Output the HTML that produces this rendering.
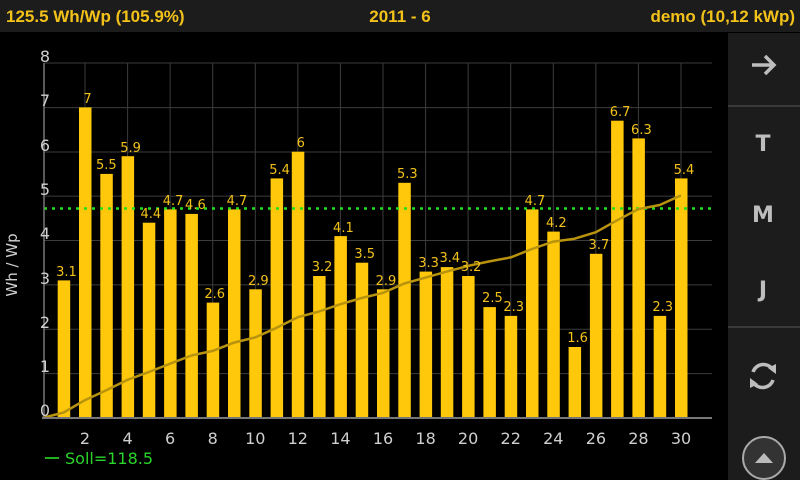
<!DOCTYPE html>
<html><head><meta charset="utf-8"><style>
html,body{margin:0;padding:0;background:#000;width:800px;height:480px;overflow:hidden;font-family:"Liberation Sans","DejaVu Sans",sans-serif}
</style></head><body>
<svg width="800" height="480" xmlns="http://www.w3.org/2000/svg" font-family="'DejaVu Sans','Liberation Sans',sans-serif">
<rect width="800" height="480" fill="#000"/>
<rect width="800" height="32" fill="#1c1c1c"/>
<g fill="#f2c21a" font-weight="bold" font-size="17" font-family="'Liberation Sans',sans-serif">
<text x="6" y="22">125.5 Wh/Wp (105.9%)</text>
<text x="400" y="22" text-anchor="middle">2011 - 6</text>
<text x="795" y="22" text-anchor="end">demo (10,12 kWp)</text>
</g>
<rect x="728" y="33" width="72" height="447" fill="#1c1c1c"/>
<rect x="728" y="105" width="72" height="2" fill="#3a3a3a"/>
<rect x="728" y="326" width="72" height="2" fill="#3a3a3a"/>
<g fill="#bdbdbd" font-weight="bold" font-size="22" text-anchor="middle">
<text x="763" y="151">T</text><text x="763" y="222">M</text><text x="763" y="297">J</text>
</g>
<path d="M752 65 H774 M765 56 L774 65 L765 74" stroke="#bdbdbd" stroke-width="3.5" fill="none"/>
<g stroke="#bdbdbd" stroke-width="3.5" fill="none">
<path d="M753 372 A11 11 0 0 1 773 370"/><path d="M773 380 A11 11 0 0 1 753 382"/>
</g>
<path d="M768 368 L776 364 L776 374 Z M758 384 L750 388 L750 378 Z" fill="#bdbdbd"/>
<circle cx="764" cy="458" r="21" fill="#333" stroke="#aaa" stroke-width="2"/>
<path d="M755 463 L764 453 L773 463 Z" fill="#bbb"/>
<g stroke="#3c3c3c" stroke-width="1">
<line x1="44" y1="63" x2="712" y2="63"/><line x1="44" y1="107.6" x2="712" y2="107.6"/><line x1="44" y1="152" x2="712" y2="152"/><line x1="44" y1="196.1" x2="712" y2="196.1"/><line x1="44" y1="240.5" x2="712" y2="240.5"/><line x1="44" y1="284.9" x2="712" y2="284.9"/><line x1="44" y1="329.3" x2="712" y2="329.3"/><line x1="44" y1="373.6" x2="712" y2="373.6"/>
<line x1="85" y1="63" x2="85" y2="418"/><line x1="127.6" y1="63" x2="127.6" y2="418"/><line x1="170.1" y1="63" x2="170.1" y2="418"/><line x1="212.7" y1="63" x2="212.7" y2="418"/><line x1="255.3" y1="63" x2="255.3" y2="418"/><line x1="297.8" y1="63" x2="297.8" y2="418"/><line x1="340.4" y1="63" x2="340.4" y2="418"/><line x1="383" y1="63" x2="383" y2="418"/><line x1="425.6" y1="63" x2="425.6" y2="418"/><line x1="468.1" y1="63" x2="468.1" y2="418"/><line x1="510.7" y1="63" x2="510.7" y2="418"/><line x1="553.3" y1="63" x2="553.3" y2="418"/><line x1="595.9" y1="63" x2="595.9" y2="418"/><line x1="638.4" y1="63" x2="638.4" y2="418"/><line x1="681" y1="63" x2="681" y2="418"/>
</g>
<g fill="#ffc80a">
<rect x="57.7" y="280.4" width="12.5" height="137.6"/><rect x="79" y="107.4" width="12.5" height="310.6"/><rect x="100.3" y="173.9" width="12.5" height="244.1"/><rect x="121.6" y="156.2" width="12.5" height="261.8"/><rect x="142.8" y="222.7" width="12.5" height="195.3"/><rect x="164.1" y="209.4" width="12.5" height="208.6"/><rect x="185.4" y="213.9" width="12.5" height="204.1"/><rect x="206.7" y="302.6" width="12.5" height="115.4"/><rect x="228" y="209.4" width="12.5" height="208.6"/><rect x="249.3" y="289.3" width="12.5" height="128.7"/><rect x="270.6" y="178.4" width="12.5" height="239.6"/><rect x="291.8" y="151.7" width="12.5" height="266.3"/><rect x="313.1" y="276" width="12.5" height="142"/><rect x="334.4" y="236.1" width="12.5" height="181.9"/><rect x="355.7" y="262.7" width="12.5" height="155.3"/><rect x="377" y="289.3" width="12.5" height="128.7"/><rect x="398.3" y="182.8" width="12.5" height="235.2"/><rect x="419.6" y="271.6" width="12.5" height="146.4"/><rect x="440.8" y="267.1" width="12.5" height="150.9"/><rect x="462.1" y="276" width="12.5" height="142"/><rect x="483.4" y="307.1" width="12.5" height="110.9"/><rect x="504.7" y="315.9" width="12.5" height="102.1"/><rect x="526" y="209.4" width="12.5" height="208.6"/><rect x="547.3" y="231.6" width="12.5" height="186.4"/><rect x="568.6" y="347" width="12.5" height="71"/><rect x="589.9" y="253.8" width="12.5" height="164.2"/><rect x="611.1" y="120.7" width="12.5" height="297.3"/><rect x="632.4" y="138.4" width="12.5" height="279.6"/><rect x="653.7" y="315.9" width="12.5" height="102.1"/><rect x="675" y="178.4" width="12.5" height="239.6"/>
</g>
<line x1="44" y1="208.5" x2="712" y2="208.5" stroke="#22e01e" stroke-width="2.5" stroke-dasharray="3,5"/>
<polyline fill="none" stroke="#b8930e" stroke-width="2.5" stroke-linejoin="round" points="42.4,418 63.7,412.5 85,400.1 106.3,390.3 127.6,379.8 148.8,372 170.1,363.7 191.4,355.5 212.7,350.9 234,342.6 255.3,337.4 276.6,327.8 297.8,317.2 319.1,311.5 340.4,304.2 361.7,298 383,292.9 404.3,283.5 425.6,277.6 446.8,271.6 468.1,265.9 489.4,261.4 510.7,257.4 532,249 553.3,241.6 574.6,238.7 595.9,232.2 617.1,220.3 638.4,209.1 659.7,205 681,195.4"/>
<g fill="#f2c21a" font-size="13" text-anchor="middle">
<text x="66.5" y="276">3.1</text><text x="87.5" y="103">7</text><text x="106.3" y="169">5.5</text><text x="130.6" y="152">5.9</text><text x="150.8" y="218">4.4</text><text x="173.1" y="205">4.7</text><text x="195.4" y="209">4.6</text><text x="214.7" y="298">2.6</text><text x="237" y="205">4.7</text><text x="258.3" y="285">2.9</text><text x="279.6" y="174">5.4</text><text x="300.8" y="147">6</text><text x="322.1" y="271">3.2</text><text x="343.4" y="232">4.1</text><text x="364.7" y="258">3.5</text><text x="386" y="285">2.9</text><text x="407.3" y="178">5.3</text><text x="428.6" y="267">3.3</text><text x="449.8" y="262">3.4</text><text x="471.1" y="271">3.2</text><text x="492.4" y="302">2.5</text><text x="513.7" y="311">2.3</text><text x="535" y="205">4.7</text><text x="556.3" y="227">4.2</text><text x="577.6" y="342">1.6</text><text x="598.9" y="249">3.7</text><text x="620.1" y="116">6.7</text><text x="641.4" y="134">6.3</text><text x="662.7" y="311">2.3</text><text x="684" y="174">5.4</text>
</g>
<line x1="44" y1="63" x2="44" y2="418" stroke="#777" stroke-width="1.5"/>
<line x1="42" y1="418" x2="712" y2="418" stroke="#777" stroke-width="2"/>
<g fill="#cfcfcf" font-size="16" text-anchor="middle">
<text x="45" y="62">8</text><text x="45" y="106">7</text><text x="45" y="151">6</text><text x="45" y="195">5</text><text x="45" y="239">4</text><text x="45" y="284">3</text><text x="45" y="328">2</text><text x="45" y="372">1</text><text x="45" y="416">0</text>
<text x="85" y="444">2</text><text x="127.6" y="444">4</text><text x="170.1" y="444">6</text><text x="212.7" y="444">8</text><text x="255.3" y="444">10</text><text x="297.8" y="444">12</text><text x="340.4" y="444">14</text><text x="383" y="444">16</text><text x="425.6" y="444">18</text><text x="468.1" y="444">20</text><text x="510.7" y="444">22</text><text x="553.3" y="444">24</text><text x="595.9" y="444">26</text><text x="638.4" y="444">28</text><text x="681" y="444">30</text>
<text transform="translate(17,265) rotate(-90)" font-size="15">Wh / Wp</text>
</g>
<line x1="45" y1="458" x2="59" y2="458" stroke="#1fb01c" stroke-width="2"/>
<text x="65" y="464" fill="#2bd42a" font-size="16">Soll=118.5</text>
</svg>
</body></html>
